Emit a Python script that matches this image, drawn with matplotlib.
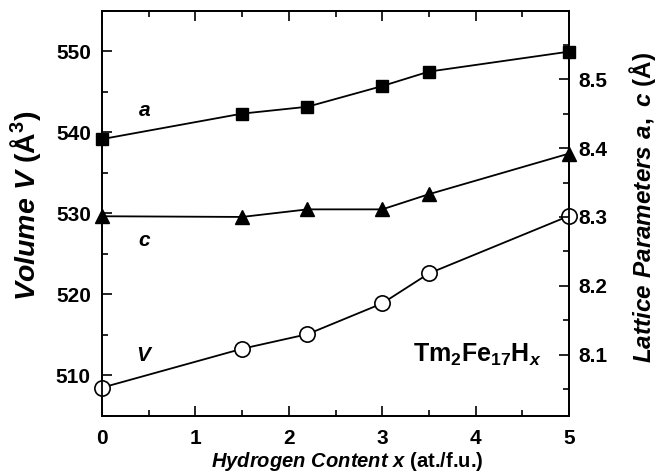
import matplotlib
matplotlib.use('Agg')
import matplotlib.pyplot as plt
from matplotlib.ticker import MultipleLocator

plt.rcParams['font.family'] = 'Liberation Sans'
plt.rcParams['font.weight'] = 'bold'
plt.rcParams['axes.labelweight'] = 'bold'
plt.rcParams['mathtext.fontset'] = 'custom'
plt.rcParams['mathtext.rm'] = 'Liberation Sans:bold'
plt.rcParams['mathtext.it'] = 'Liberation Sans:bold:italic'
plt.rcParams['mathtext.bf'] = 'Liberation Sans:bold'

# hydrogen content
x = [0, 1.5, 2.2, 3, 3.5, 5]
# lattice parameters (right axis)
a_param = [8.413, 8.450, 8.460, 8.490, 8.511, 8.540]
c_param = [8.301, 8.300, 8.311, 8.311, 8.333, 8.392]
# cell volume (left axis)
volume = [508.5, 513.3, 515.1, 518.9, 522.6, 529.7]

fig = plt.figure(figsize=(6.58, 4.73), dpi=100)
ax = fig.add_axes([102/658, 1 - 416/473, 467/658, 405/473])
ax2 = ax.twinx()

ax.plot(x, volume, '-', color='black', lw=1.3, marker='o', ms=11,
        mfc='white', mec='black', mew=1.2, clip_on=False, zorder=3)
ax2.plot(x, a_param, '-', color='black', lw=1.3, marker='s', ms=9,
         mfc='black', mec='black', clip_on=False, zorder=3)
ax2.plot(x, c_param, '-', color='black', lw=1.3, marker='^', ms=10,
         mfc='black', mec='black', clip_on=False, zorder=3)

ax.set_xlim(0, 5)
ax.set_ylim(505, 555)
ax2.set_ylim(8.011, 8.599)

ax.xaxis.set_major_locator(MultipleLocator(1))
ax.xaxis.set_minor_locator(MultipleLocator(0.5))
ax.yaxis.set_major_locator(MultipleLocator(10))
ax.yaxis.set_minor_locator(MultipleLocator(5))
ax2.yaxis.set_major_locator(MultipleLocator(0.1))
ax2.yaxis.set_minor_locator(MultipleLocator(0.05))
ax2.yaxis.set_major_formatter(plt.FuncFormatter(lambda v, p: f'{v:.1f}'))

ax.tick_params(axis='x', which='both', direction='in', top=True, labelsize=15, pad=9)
ax.tick_params(axis='y', which='both', direction='in', labelsize=15, pad=8)
ax.tick_params(which='major', length=7, width=1.2)
ax.tick_params(which='minor', length=4, width=1.2)
ax2.tick_params(axis='y', which='both', direction='in', labelsize=15, pad=7)
ax2.tick_params(which='major', length=7, width=1.2)
ax2.tick_params(which='minor', length=4, width=1.2)

for sp in list(ax.spines.values()) + list(ax2.spines.values()):
    sp.set_linewidth(1.3)

ax.set_xlabel(r'$Hydrogen\ Content\ x$ (at./f.u.)', fontsize=14.5, fontweight='bold')
ax.xaxis.set_label_coords(0.525, -0.083)
ax.set_ylabel(r'$Volume\ V$ (Å$^3$)', fontsize=20.5, fontweight='bold')
ax.yaxis.set_label_coords(-0.126, 0.52)
ax2.set_ylabel(r'$Lattice\ Parameters\ a,\ c$ (Å)', fontsize=17.5, fontweight='bold',
               rotation=90)
ax2.yaxis.set_label_coords(1.124, 0.514)

ax.text(0.46, 542.7, r'$a$', fontsize=15, ha='center', va='center')
ax.text(0.46, 526.7, r'$c$', fontsize=15, ha='center', va='center')
ax.text(0.46, 512.5, r'$V$', fontsize=15, ha='center', va='center')
ax.text(4.70, 512.6, r'Tm$_2$Fe$_{17}$H$_x$', fontsize=18, ha='right', va='center')

fig.savefig('out.png', dpi=100)
